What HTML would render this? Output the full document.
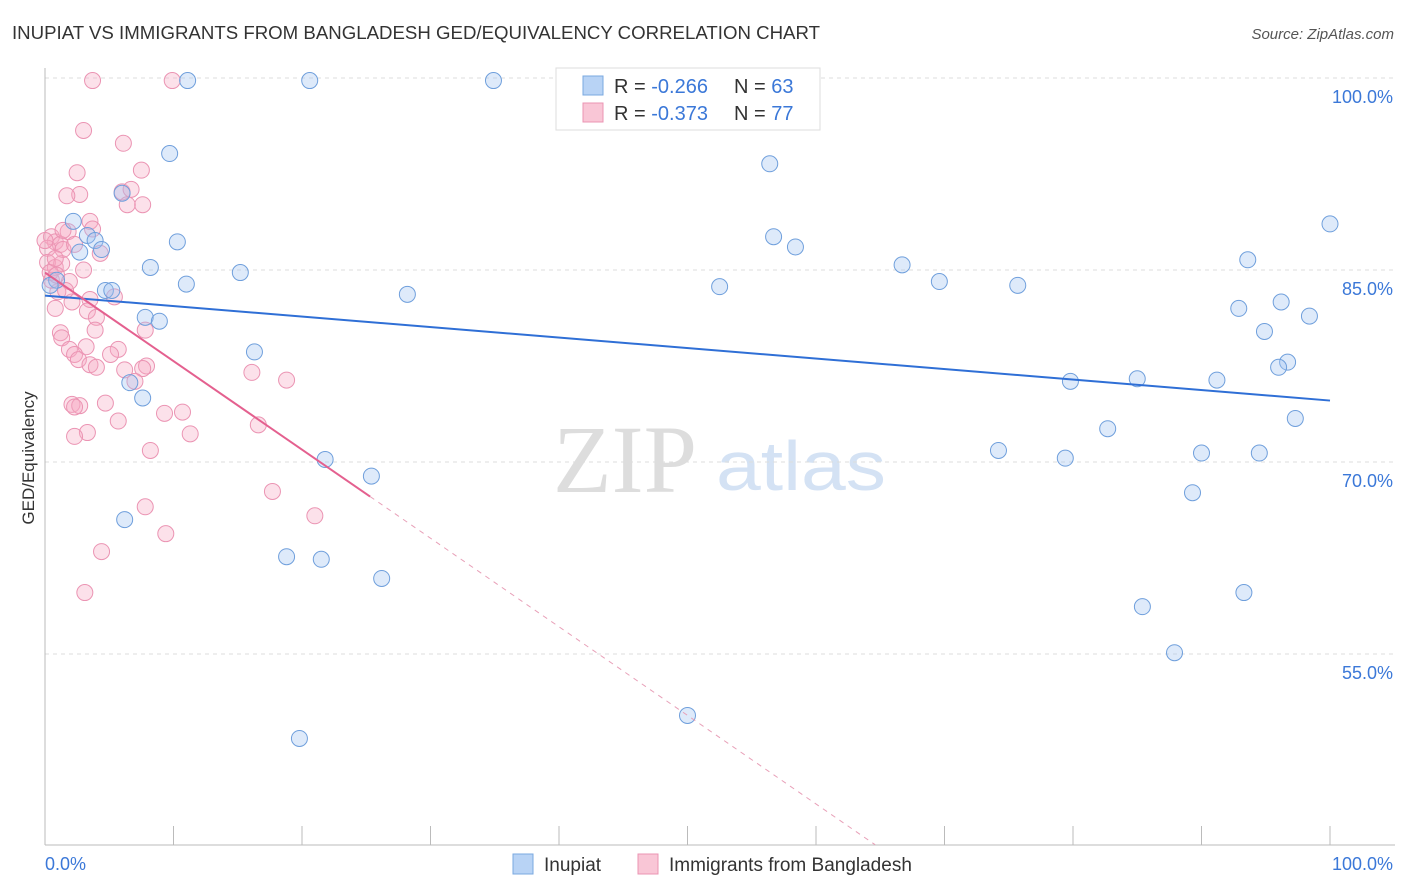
<!DOCTYPE html>
<html><head><meta charset="utf-8"><style>
body{margin:0;background:#fff;font-family:"Liberation Sans",sans-serif;}
svg{display:block}
</style></head><body>
<svg id="chart" width="1406" height="892" xmlns="http://www.w3.org/2000/svg">
<text x="12" y="39" font-size="18" fill="#333" textLength="808" lengthAdjust="spacingAndGlyphs">INUPIAT VS IMMIGRANTS FROM BANGLADESH GED/EQUIVALENCY CORRELATION CHART</text>
<text x="1394" y="39" font-size="15" fill="#555" font-style="italic" text-anchor="end">Source: ZipAtlas.com</text>
<text x="34" y="458" font-size="17" fill="#333" transform="rotate(-90 34 458)" text-anchor="middle">GED/Equivalency</text>
<g>
<text x="553" y="492" font-size="96" fill="#ddd" font-family="Liberation Serif,serif">ZIP</text>
<text x="716" y="490" font-size="70" fill="#d4e2f4" textLength="170" lengthAdjust="spacingAndGlyphs">atlas</text>
</g>
<g id="grid"></g>
<g id="axes"></g>
<g id="pinkPts"></g>
<g id="bluePts"></g>
<g id="lines"></g>
<g>
<rect x="556" y="68" width="264" height="62" fill="#fff" stroke="#ddd"/>
<rect x="583" y="76" width="20" height="19" fill="#b8d3f5" stroke="#7aa8e0"/>
<rect x="583" y="103" width="20" height="19" fill="#f9c6d6" stroke="#eb94b3"/>
<text x="614" y="93" font-size="20" fill="#333">R = <tspan fill="#3b78d8">-0.266</tspan></text>
<text x="734" y="93" font-size="20" fill="#333">N = <tspan fill="#3b78d8">63</tspan></text>
<text x="614" y="120" font-size="20" fill="#333">R = <tspan fill="#3b78d8">-0.373</tspan></text>
<text x="734" y="120" font-size="20" fill="#333">N = <tspan fill="#3b78d8">77</tspan></text>
</g>
<g>
<rect x="513" y="854" width="20" height="20" fill="#b8d3f5" stroke="#7aa8e0"/>
<text x="544" y="871" font-size="19" fill="#333">Inupiat</text>
<rect x="638" y="854" width="20" height="20" fill="#f9c6d6" stroke="#eb94b3"/>
<text x="669" y="871" font-size="19" fill="#333">Immigrants from Bangladesh</text>
</g>
</svg>
<script>
const yTicks=[100,85,70,55];
const yTickLabels=["100.0%","85.0%","70.0%","55.0%"];
const xTicks=[0,10,20,30,40,50,60,70,80,90,100];
const blueX=[11.1,20.6,34.9,47.2,9.7,56.4,6.0,2.2,100,3.3,3.9,10.3,56.7,58.4,4.4,2.7,8.2,15.2,66.7,93.6,69.6,75.7,11.0,52.5,28.2,4.7,5.2,0.9,92.9,96.2,94.9,98.4,7.8,8.9,16.3,96.7,96.0,79.8,85.0,91.2,6.6,7.6,97.3,82.7,21.8,74.2,79.4,90.0,94.5,25.4,89.3,6.2,18.8,21.5,26.2,93.3,85.4,87.9,50.0,19.8,0.4];
const blueY=[99.8,99.8,99.8,99.8,94.1,93.3,91.0,88.8,88.6,87.7,87.3,87.2,87.6,86.8,86.6,86.4,85.2,84.8,85.4,85.8,84.1,83.8,83.9,83.7,83.1,83.4,83.4,84.2,82.0,82.5,80.2,81.4,81.3,81.0,78.6,77.8,77.4,76.3,76.5,76.4,76.2,75.0,73.4,72.6,70.2,70.9,70.3,70.7,70.7,68.9,67.6,65.5,62.6,62.4,60.9,59.8,58.7,55.1,50.2,48.4,83.8];
const pinkX=[3.7,9.9,3.0,6.1,7.5,2.5,2.7,1.7,6.0,6.7,7.6,6.4,3.5,3.7,1.8,0.5,0.8,1.2,0.2,1.4,4.3,0.2,0.8,1.3,3.0,0.4,1.9,1.0,3.5,5.4,0.8,2.1,3.3,4.0,3.9,1.2,7.8,1.3,1.9,5.7,3.2,2.3,5.1,2.6,3.5,4.0,7.9,6.2,7.6,16.1,18.8,7.0,2.1,4.7,2.7,2.3,10.7,9.3,5.7,16.6,3.3,2.3,11.3,8.2,17.7,7.8,21.0,9.4,4.4,3.1,0.8,0.0,0.5,1.6,0.9,1.4,2.3];
const pinkY=[99.8,99.8,95.9,94.9,92.8,92.6,90.9,90.8,91.1,91.3,90.1,90.1,88.8,88.2,88.0,87.6,87.2,87.0,86.7,86.6,86.3,85.6,85.2,85.5,85.0,84.8,84.1,83.3,82.7,82.9,82.0,82.5,81.8,81.3,80.3,80.1,80.3,79.7,78.8,78.8,79.0,78.4,78.4,78.0,77.6,77.4,77.5,77.2,77.3,77.0,76.4,76.3,74.5,74.6,74.4,74.3,73.9,73.8,73.2,72.9,72.3,72.0,72.2,70.9,67.7,66.5,65.8,64.4,63.0,59.8,85.9,87.3,84.2,83.4,84.6,88.1,87.0];
const blueTrend=[83.0,74.8];
const pinkTrend=[84.8,67.3,40.1];
const pinkTrendX=[0,25.3,64.6];
const NS="http://www.w3.org/2000/svg";
function xs(v){return 45+v*12.85;}
function ys(v){return 78+(100-v)*12.8;}
function mk(tag,attrs,parent){const e=document.createElementNS(NS,tag);for(const k in attrs)e.setAttribute(k,attrs[k]);parent.appendChild(e);return e;}
const grid=document.getElementById('grid'),axes=document.getElementById('axes');
yTicks.forEach((t,i)=>{
 const l=mk('line',{x1:45,x2:1395,y1:ys(t),y2:ys(t),stroke:'#ddd','stroke-dasharray':'4,4'},grid);
 
 
 const tx=mk('text',{x:1393,y:ys(t)+25,'font-size':18,fill:'#3b78d8','text-anchor':'end'},axes);
 tx.textContent=yTickLabels[i];
 
 
});
const ax=mk('line',{x1:45,x2:1395,y1:845,y2:845,stroke:'#bbb'},axes);


const ay=mk('line',{x1:45,x2:45,y1:68,y2:845,stroke:'#bbb'},axes);


xTicks.forEach(t=>{
 const l=mk('line',{x1:xs(t),x2:xs(t),y1:826,y2:845,stroke:'#bbb'},axes);
 
 
});
const x0=mk('text',{x:45,y:870,'font-size':18,fill:'#3b78d8'},axes);x0.textContent='0.0%';


const x1=mk('text',{x:1393,y:870,'font-size':18,fill:'#3b78d8','text-anchor':'end'},axes);x1.textContent='100.0%';


const bp=document.getElementById('bluePts'),pp=document.getElementById('pinkPts');
pinkX.forEach((x,i)=>{
 const c=mk('circle',{cx:xs(x),cy:ys(pinkY[i]),r:8,fill:'rgba(246,170,196,0.35)',stroke:'#eb94b3','stroke-width':1},pp);
 
 
});
blueX.forEach((x,i)=>{
 const c=mk('circle',{cx:xs(x),cy:ys(blueY[i]),r:8,fill:'rgba(160,196,240,0.35)',stroke:'#6f9fdc','stroke-width':1},bp);
 
 
});
const lg=document.getElementById('lines');
const bl=mk('line',{x1:xs(0),y1:ys(blueTrend[0]),x2:xs(100),y2:ys(blueTrend[1]),stroke:'#2f6fd6','stroke-width':2},lg);


const pl=mk('line',{x1:xs(pinkTrendX[0]),y1:ys(pinkTrend[0]),x2:xs(pinkTrendX[1]),y2:ys(pinkTrend[1]),stroke:'#e4608f','stroke-width':2},lg);


const pd=mk('line',{x1:xs(pinkTrendX[1]),y1:ys(pinkTrend[1]),x2:xs(pinkTrendX[2]),y2:ys(pinkTrend[2]),stroke:'#e8a0b8','stroke-width':1,'stroke-dasharray':'5,5'},lg);


</script>
</body></html>
